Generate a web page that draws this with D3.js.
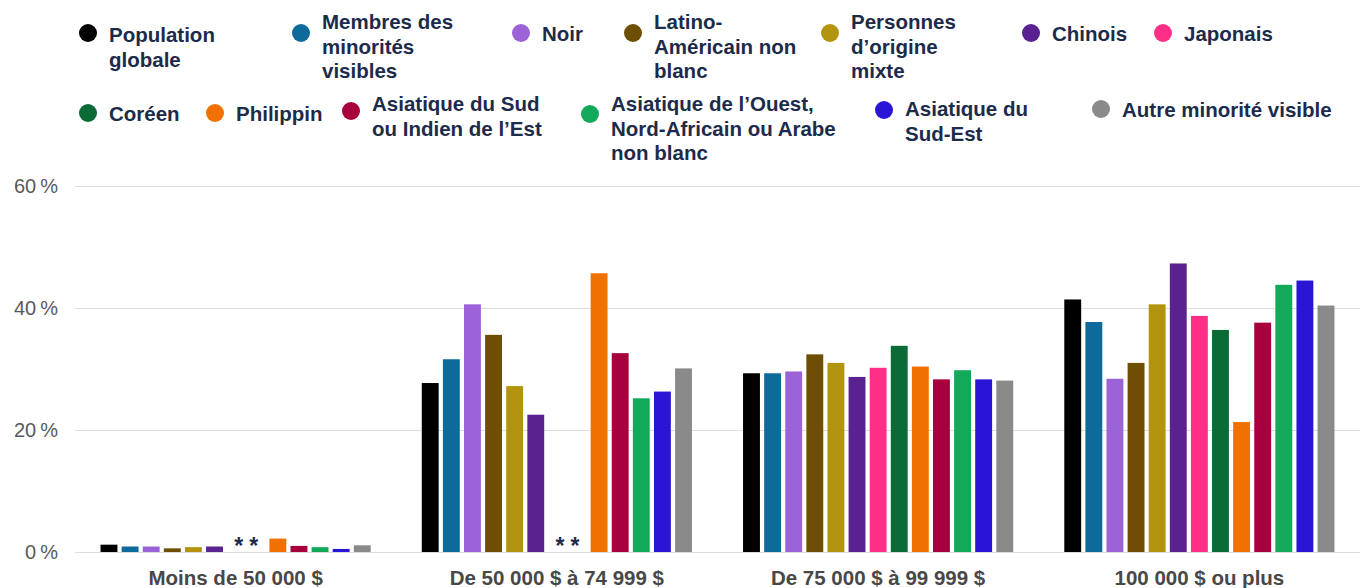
<!DOCTYPE html>
<html>
<head>
<meta charset="utf-8">
<script src="https://cdn.jsdelivr.net/npm/d3@7"></script>
<style>
  body { margin: 0; background: #fff; }
  svg { display: block; font-family: "Liberation Sans", Arial, sans-serif; }
</style>
</head>
<body>
<svg id="chart"></svg>
<script>
// categories (income brackets)
var categories = ["Moins de 50 000 $", "De 50 000 $ à 74 999 $", "De 75 000 $ à 99 999 $", "100 000 $ ou plus"];

// series names (legend order), null = suppressed value (**)
var seriesNames = ["Population globale", "Membres des minorités visibles", "Noir", "Latino-Américain non blanc",
  "Personnes d'origine mixte", "Chinois", "Japonais", "Coréen", "Philippin",
  "Asiatique du Sud ou Indien de l'Est", "Asiatique de l'Ouest, Nord-Africain ou Arabe non blanc",
  "Asiatique du Sud-Est", "Autre minorité visible"];

var popGlobale   = [1.2, 27.7, 29.3, 41.4];
var minorites    = [0.9, 31.6, 29.3, 37.7];
var noir         = [0.9, 40.6, 29.6, 28.4];
var latino       = [0.6, 35.6, 32.4, 31.0];
var mixte        = [0.8, 27.2, 31.0, 40.6];
var chinois      = [0.9, 22.5, 28.7, 47.3];
var japonais     = [null, null, 30.2, 38.7];
var coreen       = [null, null, 33.8, 36.4];
var philippin    = [2.2, 45.7, 30.4, 21.3];
var asieSud      = [1.0, 32.6, 28.3, 37.6];
var asieOuest    = [0.8, 25.2, 29.8, 43.8];
var asieSudEst   = [0.5, 26.3, 28.3, 44.5];
var autre        = [1.1, 30.1, 28.1, 40.4];

var seriesValues = [popGlobale, minorites, noir, latino, mixte, chinois, japonais, coreen,
  philippin, asieSud, asieOuest, asieSudEst, autre];

var colors = ["#000000", "#0e6a9a", "#9c63d8", "#6d4e02", "#b3940f", "#5a2290", "#ff2f87",
  "#0a6b37", "#f07000", "#a8003c", "#12a95b", "#2a15d6", "#8a8a8a"];

var yTicks = [0, 20, 40, 60];

// legend text, split in lines as shown
var legendLines = [["Population", "globale"], ["Membres des", "minorités", "visibles"], ["Noir"],
  ["Latino-", "Américain non", "blanc"], ["Personnes", "d’origine", "mixte"], ["Chinois"], ["Japonais"],
  ["Coréen"], ["Philippin"], ["Asiatique du Sud", "ou Indien de l’Est"],
  ["Asiatique de l’Ouest,", "Nord-Africain ou Arabe", "non blanc"], ["Asiatique du", "Sud-Est"],
  ["Autre minorité visible"]];

// legend layout: circle x, circle y, first line y
var legendPos = [[88, 33, 35], [301, 33, 22], [521, 33, 34], [633, 33, 22], [830, 33, 22],
  [1031, 33, 34], [1163, 33, 34], [88, 113, 114], [215, 113, 114], [351, 111, 104],
  [590, 114, 104], [884, 110, 109], [1101, 109, 110]];

const width = 1367, height = 588;
const svg = d3.select('svg#chart').attr('width', width).attr('height', height);

const x0 = d3.scaleBand().domain(categories).range([75, 1360]).padding(0);
const x1 = d3.scaleBand().domain(d3.range(seriesNames.length))
  .range([0, x0.bandwidth()]).paddingInner(0.2).paddingOuter(1.21);
const y = d3.scaleLinear().domain([0, 60]).range([552, 186]);

// grid
svg.append('g').selectAll('line').data(yTicks).join('line')
  .attr('x1', 75).attr('x2', 1360)
  .attr('y1', d => y(d) + 0.5).attr('y2', d => y(d) + 0.5)
  .attr('stroke', '#dddddd').attr('stroke-width', 1);

// y axis labels
svg.append('g').selectAll('text').data(yTicks).join('text')
  .attr('x', 58).attr('y', d => y(d)).attr('dy', '0.35em')
  .attr('text-anchor', 'end')
  .attr('font-size', 20).attr('fill', '#5a5a5a')
  .text(d => d + '\u202f%');

// bars
const flat = [];
categories.forEach((c, ci) => {
  seriesValues.forEach((vals, si) => flat.push({ cat: c, s: si, v: vals[ci] }));
});

svg.append('g').selectAll('rect').data(flat.filter(d => d.v != null)).join('rect')
  .attr('x', d => x0(d.cat) + x1(d.s))
  .attr('y', d => y(d.v))
  .attr('width', x1.bandwidth())
  .attr('height', d => y(0) - y(d.v))
  .attr('fill', d => colors[d.s]);

// suppressed values
svg.append('g').selectAll('text').data(flat.filter(d => d.v == null)).join('text')
  .attr('x', d => x0(d.cat) + x1(d.s) + x1.bandwidth() / 2 + (d.s == 6 ? 3 : -3))
  .attr('y', y(0) + 2)
  .attr('text-anchor', 'middle')
  .attr('font-size', 23).attr('font-weight', 'bold').attr('fill', '#1c2b4a')
  .text('*');

// x labels
svg.append('g').selectAll('text').data(categories).join('text')
  .attr('x', d => x0(d) + x0.bandwidth() / 2)
  .attr('y', 578).attr('dy', '0.35em')
  .attr('text-anchor', 'middle')
  .attr('font-size', 20.5).attr('font-weight', 'bold').attr('fill', '#484848')
  .text(d => d);

// legend
const leg = svg.append('g').selectAll('g').data(seriesNames).join('g');
leg.append('circle')
  .attr('cx', (d, i) => legendPos[i][0])
  .attr('cy', (d, i) => legendPos[i][1])
  .attr('r', 9)
  .attr('fill', (d, i) => colors[i]);
leg.each(function (d, i) {
  d3.select(this).selectAll('text').data(legendLines[i]).join('text')
    .attr('x', legendPos[i][0] + 21)
    .attr('y', (t, k) => legendPos[i][2] + k * 24.5)
    .attr('dy', '0.35em')
    .attr('font-size', 20.5).attr('font-weight', 'bold').attr('fill', '#1c2b4a')
    .text(t => t);
});
</script>
</body>
</html>
